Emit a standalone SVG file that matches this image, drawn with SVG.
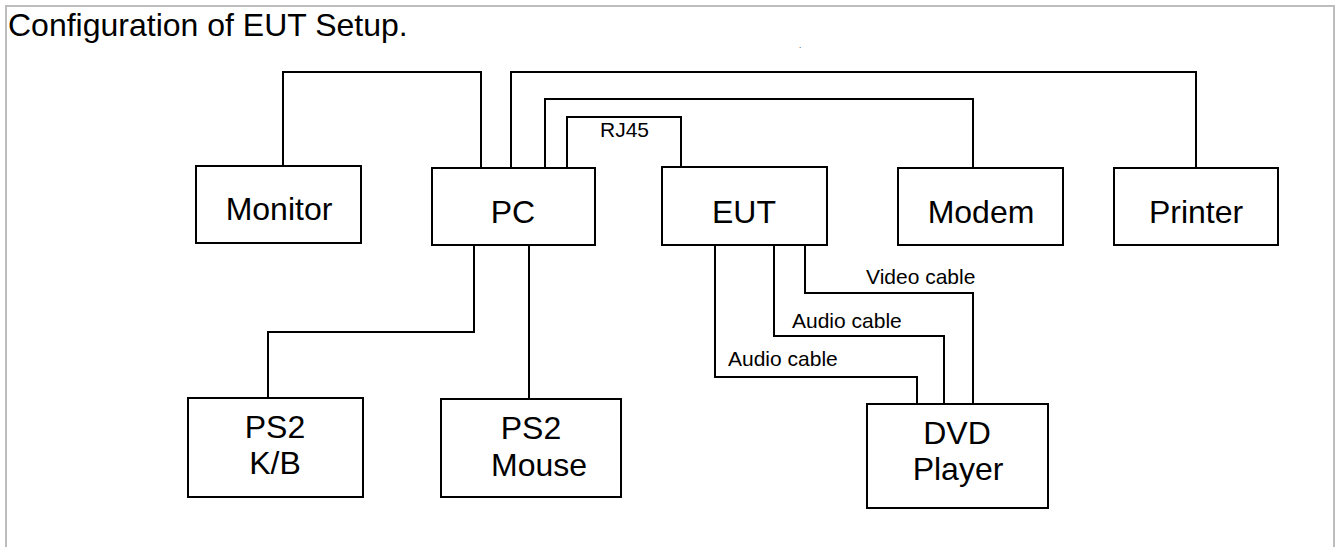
<svg xmlns="http://www.w3.org/2000/svg" width="1340" height="547" viewBox="0 0 1340 547">
<style>
.box{fill:#fff;stroke:#000;stroke-width:2}
.ln{fill:none;stroke:#000;stroke-width:2}
.big{font-family:"Liberation Sans",Arial,sans-serif;font-size:32px;fill:#000;text-anchor:middle}
.sm{font-family:"Liberation Sans",Arial,sans-serif;font-size:21px;fill:#000}
.title{font-family:"Liberation Sans",Arial,sans-serif;font-size:32px;fill:#000}
</style>
<rect width="1340" height="547" fill="#fff"/>
<path d="M6,547 V6 H1334 V547" fill="none" stroke="#bdbdbd" stroke-width="2"/>
<text class="title" x="8" y="36">Configuration of EUT Setup.</text>
<text class="sm" x="799" y="48" style="font-size:8px">.</text>
<g id="connectors">
<path class="ln" d="M283,166 V72 H481 V168"/>
<path class="ln" d="M511,168 V72 H1196 V168"/>
<path class="ln" d="M545,168 V99 H973 V168"/>
<path class="ln" d="M567,168 V117 H681 V167"/>
<text class="sm" x="600" y="137">RJ45</text>
<path class="ln" d="M474,245 V332 H268 V398"/>
<path class="ln" d="M529,245 V399"/>
<path class="ln" d="M715,245 V377 H917 V404"/>
<path class="ln" d="M774,245 V336 H944 V404"/>
<path class="ln" d="M805,245 V293 H973 V404"/>
<text class="sm" x="866" y="284">Video cable</text>
<text class="sm" x="792" y="328">Audio cable</text>
<text class="sm" x="728" y="366">Audio cable</text>
</g>
<g id="monitor"><rect class="box" x="196" y="166" width="165" height="77"/><text class="big" x="279" y="220">Monitor</text></g>
<g id="pc"><rect class="box" x="432" y="168" width="163" height="77"/><text class="big" x="513" y="223">PC</text></g>
<g id="eut"><rect class="box" x="662" y="167" width="165" height="78"/><text class="big" x="744" y="223">EUT</text></g>
<g id="modem"><rect class="box" x="898" y="168" width="165" height="77"/><text class="big" x="981" y="223">Modem</text></g>
<g id="printer"><rect class="box" x="1114" y="168" width="164" height="77"/><text class="big" x="1196" y="223">Printer</text></g>
<g id="ps2kb"><rect class="box" x="188" y="398" width="175" height="99"/><text class="big" x="275" y="438">PS2</text><text class="big" x="275" y="474">K/B</text></g>
<g id="ps2mouse"><rect class="box" x="441" y="399" width="180" height="98"/><text class="big" x="531" y="439">PS2</text><text class="big" x="539" y="476">Mouse</text></g>
<g id="dvd"><rect class="box" x="867" y="404" width="181" height="104"/><text class="big" x="957" y="444">DVD</text><text class="big" x="958" y="480">Player</text></g>
</svg>
